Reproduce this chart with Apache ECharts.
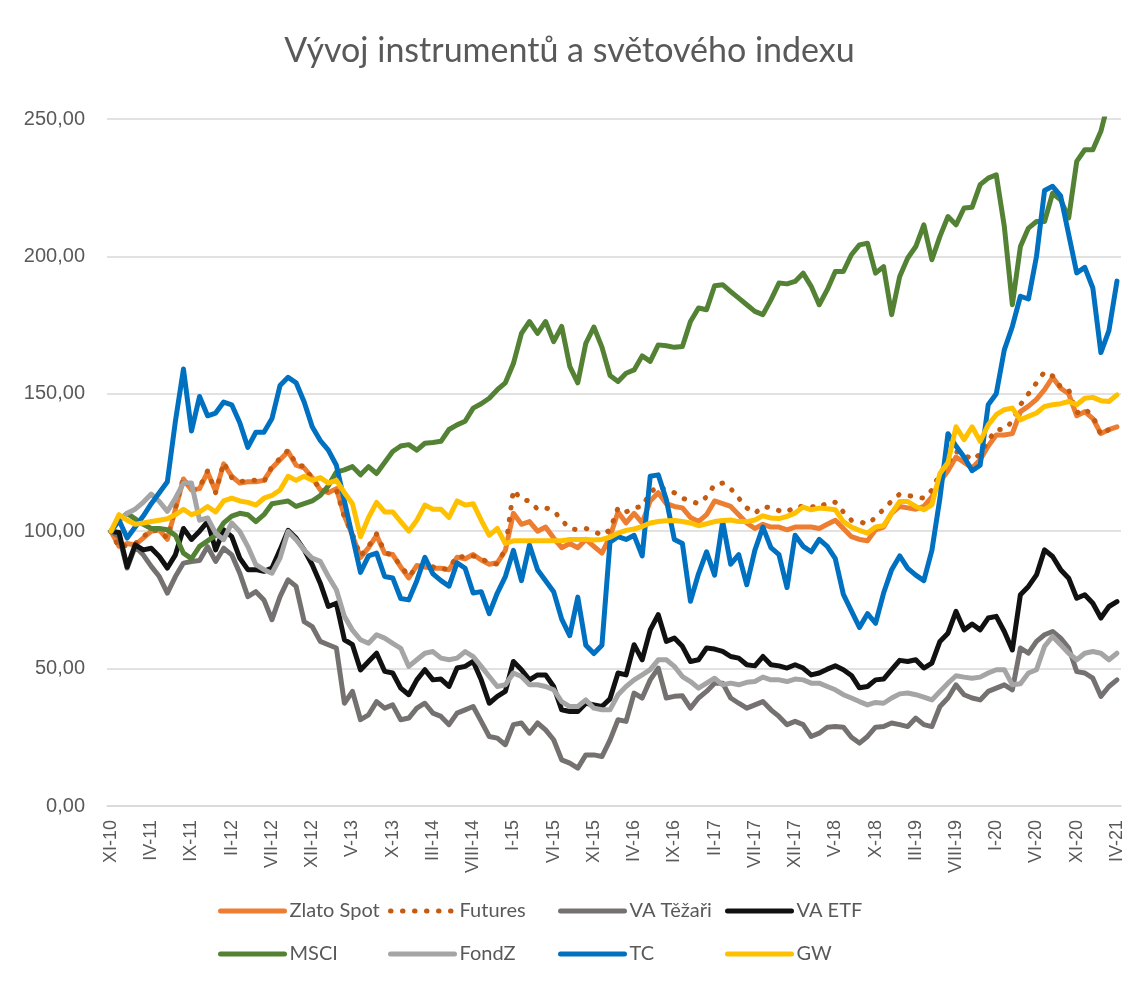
<!DOCTYPE html>
<html>
<head>
    <meta charset="utf-8">
    <title>Vývoj instrumentů a světového indexu</title>
    <script src="https://cdn.jsdelivr.net/npm/echarts@6/dist/echarts.min.js"></script>
    <style>
        html, body { margin: 0; padding: 0; background: #fff; }
        #chart { width: 1139px; height: 983px; }
    </style>
</head>
<body>
<div id="chart"></div>

<script>
    // měsíce XI-10 .. IV-21 (126 hodnot)
    const roman = ['I', 'II', 'III', 'IV', 'V', 'VI', 'VII', 'VIII', 'IX', 'X', 'XI', 'XII'];
    const months = [];
    for (let k = 0; k < 126; k++) {
        const m = (10 + k) % 12;
        const y = 10 + Math.floor((10 + k) / 12);
        months.push(roman[m] + '-' + y);
    }

    const zlatoSpot = [100, 94.5, 95.5, 95, 97.5, 100, 100.5, 97, 108, 119, 115, 115.5, 121.5, 114.5, 124.5, 120, 117.5, 118, 118, 118.5,
        123, 126, 129, 124, 123, 119.5, 115, 114, 115.5, 105.5, 98.5, 90.5, 94, 98.5, 92, 91.5, 87, 83, 87.5, 87,
        86.5, 86.5, 86, 90.5, 90, 91.5, 89.5, 88, 88.5, 93, 106.5, 102.5, 103.5, 100, 101.5, 97.5, 94, 95.5, 94, 97,
        94.5, 92, 98, 107, 103, 106.5, 103, 111, 114, 110, 109, 108.5, 105, 103.5, 106, 111, 110, 109, 106, 103,
        101, 102.5, 101.5, 101.5, 100.5, 101.5, 101.5, 101.5, 101, 102.5, 104, 101, 98, 97, 96.5, 100.5, 101.5, 106.5, 109, 108.5,
        108, 109, 112.5, 118, 122, 127, 125, 123, 126, 131, 135, 135, 135.5, 143.5, 145.5, 148, 151.5, 156, 152, 150,
        142, 143.5, 141, 135.5, 137, 138];

    const futures = [100, 94, 95, 95.5, 98, 100.5, 100, 97.5, 108.5, 119.5, 114.5, 116, 122, 114, 125, 119.5, 118, 118.5, 118.5, 118,
        123.5, 126.5, 129.5, 124.5, 123.5, 119, 115.5, 114.5, 115, 105, 99, 91, 94.5, 99, 92.5, 91, 87.5, 83.5, 87, 87.5,
        87, 86, 86.5, 91, 90.5, 91, 90, 88.5, 88, 93.5, 115, 111.5, 111, 108, 108.5, 107.5, 104, 101, 100.5, 101,
        100, 98.5, 100.5, 108.5, 107, 108.5, 109, 114, 116.5, 115, 114, 112, 111, 110, 112.5, 117, 117.5, 115.5, 112, 108.5,
        106.5, 109, 108.5, 107.5, 107, 109, 109, 109, 108.5, 110.5, 110.5, 107, 104, 103.5, 102.5, 105, 108, 111, 113.5, 113,
        112.5, 112, 115, 121, 125, 129, 128, 126, 128, 133, 137, 137, 140, 146, 150, 154, 158, 156.5, 152.5, 151.5,
        143, 144.5, 142, 135, 137, 138];

    const vaTezari = [100, 98, 86.6, 94.4, 91.4, 87.2, 83.5, 77.5, 83.5, 88.4, 89, 89.3, 94.4, 89, 93.8, 91.4, 84.7, 76.2, 78, 75,
        67.8, 76.2, 82.3, 79.9, 67.1, 65.3, 59.9, 58.7, 57.5, 37.4, 41.7, 31.4, 33.2, 38, 35.6, 36.8, 31.4, 32, 35.6, 37.4,
        33.8, 32.6, 29.6, 33.8, 35, 36.2, 30.8, 25.3, 24.7, 22.3, 29.6, 30.2, 26.5, 30.2, 27.7, 24.1, 16.8, 15.6, 13.8, 18.6,
        18.6, 18, 24, 31.4, 30.8, 41.1, 39.3, 45.9, 50.2, 39.3, 39.9, 40.1, 35.6, 39.3, 41.7, 44.7, 44.7, 39.3, 37.4, 35.6,
        36.8, 38, 35, 32.6, 29.6, 30.8, 29.6, 25.3, 26.5, 28.7, 28.9, 28.7, 25, 22.9, 25.3, 28.7, 28.9, 30.2, 29.6, 28.9,
        32, 29.6, 28.9, 36.2, 39.3, 44.1, 40.5, 39.3, 38.6, 41.7, 42.9, 44.1, 42.3, 57.5, 55.6, 59.9, 62.3, 63.5, 61.1, 57.5,
        48.9, 48.4, 46.5, 39.9, 43.5, 45.9];

    const vaEtf = [100, 99.5, 87, 95, 93.2, 93.8, 90.8, 86.6, 91.4, 101, 97, 100, 103.5, 93.2, 100.5, 98, 90.2, 86, 86, 85.4,
        86.6, 93.2, 100.3, 97.5, 93.2, 87.8, 81.1, 72.6, 73.8, 60.5, 58.7, 49.5, 52.6, 55.6, 49, 48.4, 42.9, 40.5, 45.9, 49.6,
        45.9, 46.2, 43.5, 50.2, 50.8, 52.6, 45.9, 37.4, 39.9, 41.7, 52.6, 49.6, 45.9, 47.7, 47.7, 43.5, 35, 34.4, 34.4, 37.4,
        36.8, 36.2, 39, 48.4, 47.7, 58.7, 53.2, 64.1, 69.6, 59.9, 61.1, 58.1, 52.6, 53.2, 57.5, 57.1, 56.3, 54.4, 53.8, 51.4,
        51, 54.4, 51.4, 51, 50.2, 51.4, 50.2, 47.7, 48.4, 49.8, 51, 49.6, 47.5, 43, 43.5, 45.9, 46.2, 49.6, 53, 52.6,
        53.2, 50.2, 52, 59.9, 62.9, 70.8, 64.1, 66.2, 64.1, 68.4, 69, 63.5, 56.8, 76.9, 79.9, 84.1, 93.2, 90.8, 86, 82.9,
        75.6, 76.9, 73.8, 68.4, 72.6, 74.4];

    const msci = [100, 104, 106.5, 104.5, 102.5, 101, 101, 100.5, 98.5, 92, 90, 94.5, 96.5, 98.5, 103, 105.5, 106.5, 106, 103.5, 106,
        110, 110.5, 111, 109, 110, 111, 113, 116.5, 121.5, 122.3, 123.5, 120.5, 123.5, 121, 125, 129, 131, 131.5, 129.5, 132,
        132.3, 132.7, 137, 138.7, 140, 144.8, 146.4, 148.4, 151.5, 154, 161, 172, 176.3, 172, 176.3, 169, 174.5, 160, 154, 168.4,
        174.3, 167, 156.7, 154.5, 157.5, 158.7, 163.8, 161.8, 167.8, 167.5, 166.9, 167.2, 176.3, 181.2, 180.6, 189.3, 189.7, 187.2, 184.8, 182.4,
        180, 178.8, 184.2, 190.3, 190, 190.9, 193.9, 189.1, 182.4, 187.9, 194.5, 194.5, 200.6, 204.2, 204.8, 193.9, 196.3, 178.8, 192.7, 199.4,
        203.6, 211.5, 198.8, 207.3, 214.5, 211.5, 217.6, 217.9, 226.1, 228.5, 229.7, 210.9, 182.4, 203.6, 210.3, 212.7, 212.7, 223, 220.6, 214,
        234.6, 238.8, 238.8, 245.5, 257, 266];

    const fondZ = [100, 104, 106.5, 108, 110.5, 113.5, 110.8, 107.2, 112, 117.5, 117.5, 104, 104.8, 99.3, 96.9, 103, 99.9, 94.4, 87.8, 86,
        84.7, 90.2, 99.9, 96.9, 93.2, 90.2, 89, 83.5, 78.7, 69, 64, 60.5, 59.2, 62.3, 61.1, 59.2, 57.4, 50.8, 53.2, 55.6,
        56.2, 53.8, 53.2, 53.8, 56.2, 54.4, 50.8, 47.1, 43.5, 44.1, 48.4, 47.1, 44.1, 44.1, 43.5, 42.3, 38, 36.2, 36.2, 38.6,
        35.6, 35, 35, 40.5, 43.5, 45.9, 47.7, 49.6, 53.2, 53.2, 50.8, 47.1, 45.3, 42.9, 44.7, 46.5, 44.1, 44.7, 44.1, 45,
        45.3, 46.9, 45.9, 45.9, 45.3, 46.2, 45.9, 44.7, 44.7, 43.5, 42.3, 40.5, 39.3, 38, 36.8, 37.7, 37.4, 39.3, 40.8, 41.1,
        40.5, 39.6, 38.6, 41.7, 44.7, 47.4, 46.9, 46.5, 46.9, 48.4, 49.6, 49.6, 44.1, 44.5, 48.4, 49.6, 58.1, 61.7, 58.7, 55.6,
        53.2, 55.6, 56.2, 55.6, 53.2, 55.6];

    const tc = [100, 104, 97.5, 101.5, 105.5, 110, 114, 118, 140, 159, 136.5, 149, 142, 143, 147, 146, 139.5, 130.5, 136, 136,
        141, 153, 156, 154, 147, 138, 133, 129.5, 124, 111, 98, 85, 91, 92, 83.5, 83, 75.5, 75, 82, 90.5,
        84.5, 82, 80, 88.5, 86.5, 77.5, 78, 70, 77.5, 83.5, 93, 82, 95, 86, 82, 78, 68, 62, 76, 58.5,
        55.5, 58.5, 96, 98, 97, 98.5, 91, 120, 120.5, 111.5, 97, 95.5, 74.5, 84.5, 92.5, 84, 103.5, 88, 91.5, 80.5,
        93, 101.5, 94, 91.5, 79.5, 98.5, 94.5, 92.5, 97, 94.5, 90, 77, 71, 65, 70, 66.5, 77.5, 86, 91, 86.5,
        84, 82, 93, 112, 135.5, 131, 127, 122, 124, 146, 150, 166, 174.5, 185.5, 184.5, 200, 224, 225.5, 222, 208,
        194, 196, 188.5, 165, 173, 191];

    const gw = [100, 106, 104, 102.5, 103, 103.5, 104, 104.5, 106, 108, 106, 107, 109, 107, 111, 112, 111, 110.5, 109.5, 112,
        113, 115, 120, 118.5, 120, 118.5, 119.5, 117.5, 118.5, 114, 110, 98, 105, 110.5, 107, 107, 103.5, 100, 104, 109.5,
        108, 108, 105, 111, 109.5, 110, 104, 98.5, 101, 95.5, 96.5, 96.5, 96.5, 96.5, 96.5, 96.5, 96.5, 97, 97, 97,
        96.8, 97, 97.8, 99.3, 100.3, 100.8, 101.7, 103, 103.5, 103.8, 103.9, 103.5, 103, 102, 102.7, 103.5, 103.9, 104.1, 103.5, 103.5,
        104.1, 105.6, 104.8, 104.6, 105.4, 106.6, 108.8, 107.8, 108.4, 108.2, 107.8, 103.5, 101.5, 100.3, 99.3, 101.5, 102, 106.6, 110.8, 110.8,
        109, 107.8, 109.6, 121, 125, 138, 133.3, 138, 132.7, 138.7, 142.4, 144.2, 144.8, 140.5, 141.8, 143, 145.4, 146, 146.4, 147.2,
        146, 148.4, 148.7, 147.5, 147.2, 149.6];

    const seriesNames = ['Zlato Spot', 'Futures', 'VA Těžaři', 'VA ETF', 'MSCI', 'FondZ', 'TC', 'GW'];
    const seriesData = [zlatoSpot, futures, vaTezari, vaEtf, msci, fondZ, tc, gw];
    const seriesColors = ['#ED7D31', '#C55A11', '#767171', '#111111', '#548235', '#A5A5A5', '#0070C0', '#FFC000'];

    const textColor = '#595959';
    const gridColor = '#D9D9D9';

    const series = seriesNames.map(function (name, k) {
        const dotted = name === 'Futures';
        return {
            name: name,
            type: 'line',
            data: seriesData[k],
            symbol: 'none',
            clip: true,
            lineStyle: {
                color: seriesColors[k],
                width: 5,
                type: dotted ? [0.5, 11.5] : 'solid',
                cap: 'round',
                join: 'round'
            },
            itemStyle: { color: seriesColors[k] }
        };
    });

    // legenda ve 4 sloupcích po 2 řádcích
    const legendLeft = [213, 383, 553, 720];
    const legends = legendLeft.map(function (x, c) {
        return {
            orient: 'vertical',
            left: x,
            top: 896,
            itemWidth: 64,
            itemHeight: 14,
            itemGap: 23,
            data: [seriesNames[c], seriesNames[c + 4]],
            lineStyle: { width: 5 },
            itemStyle: { opacity: 0, borderWidth: 0 },  // bez kolečka uprostřed
            textStyle: {
                color: textColor,
                fontSize: 20,
                lineHeight: 20,
                fontFamily: 'Lato'
            }
        };
    });

    const chart = echarts.init(document.getElementById('chart'));
    chart.setOption({
        animation: false,
        backgroundColor: '#fff',
        title: {
            text: 'Vývoj instrumentů a světového indexu',
            left: 'center',
            top: 29,
            textStyle: {
                color: textColor,
                fontSize: 34,
                fontWeight: 'normal',
                fontFamily: 'Lato'
            }
        },
        legend: legends,
        grid: { left: 107, right: 18, top: 119, bottom: 177 },
        xAxis: {
            type: 'category',
            data: months,
            boundaryGap: true,
            axisLine: { lineStyle: { color: gridColor, width: 1.5 } },
            axisTick: { interval: 4, length: 7, lineStyle: { color: gridColor, width: 1.5 } },
            axisLabel: {
                interval: 4,
                rotate: 90,
                margin: 14,
                color: textColor,
                fontSize: 18,
                fontFamily: 'Liberation Sans'
            }
        },
        yAxis: {
            type: 'value',
            min: 0,
            max: 250,
            interval: 50,
            axisLine: { show: false },
            axisTick: { show: false },
            splitLine: { lineStyle: { color: gridColor, width: 1.5 } },
            axisLabel: {
                margin: 22,
                color: textColor,
                fontSize: 20,
                fontFamily: 'Liberation Sans',
                formatter: function (v) { return v.toFixed(2).replace('.', ','); }
            }
        },
        series: series
    });
</script>
</body>
</html>
